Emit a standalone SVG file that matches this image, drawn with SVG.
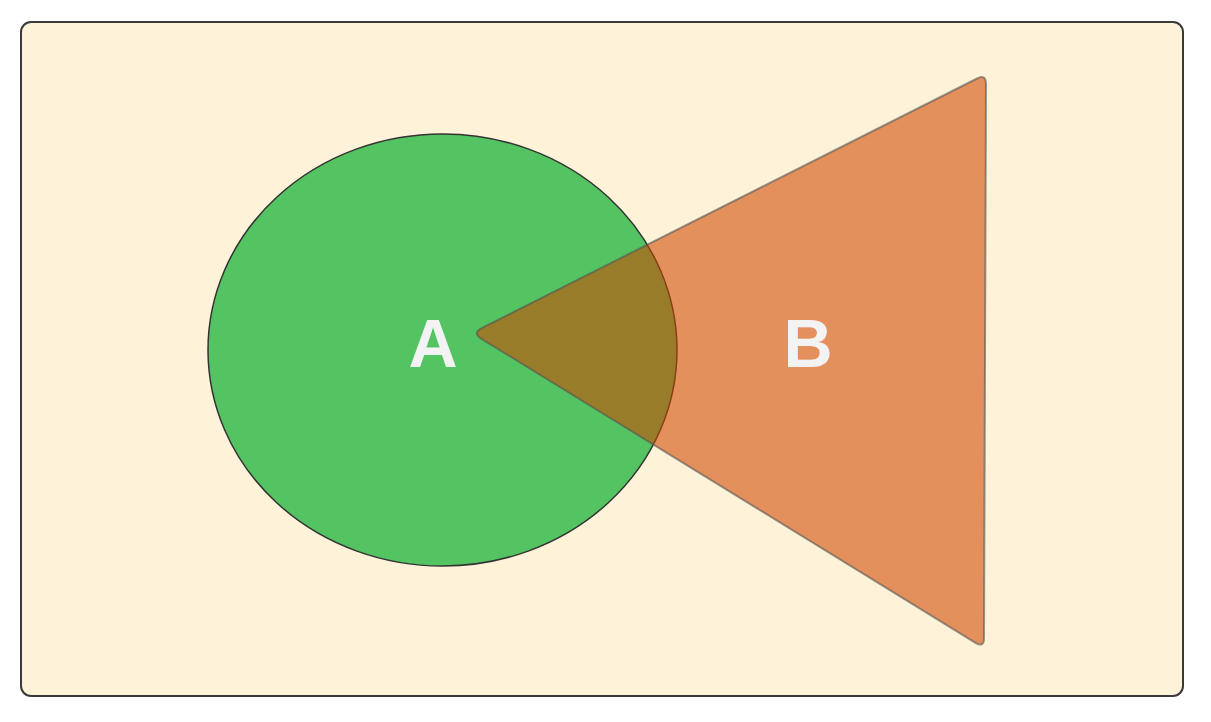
<svg xmlns="http://www.w3.org/2000/svg" width="1211" height="722" viewBox="0 0 1211 722">
<style>
.lbl{font-family:"Liberation Sans",Arial,sans-serif;font-weight:bold;font-size:68px;fill:#f3f3f3;text-anchor:middle}
</style>
<rect x="0" y="0" width="1211" height="722" fill="#ffffff"/>
<rect id="frame" x="21" y="22" width="1162" height="674" rx="10" fill="#fef2d8" stroke="#3a3a3a" stroke-width="2"/>
<g id="setA">
<ellipse cx="442.5" cy="350" rx="234.5" ry="216" fill="#54c462" stroke="#333333" stroke-width="1.5"/>
</g>
<g id="setB">
<path d="M482.7,327.6 L977.1,78.5 Q986,74 986,84 L984,638 Q984,648 975.5,642.8 L482.2,339.3 Q471,333 482.7,327.6 Z" fill="#cd4600" fill-opacity="0.57" stroke="#555555" stroke-opacity="0.6" stroke-width="2"/>
</g>
<g id="labels">
<text class="lbl" x="433" y="367">A</text>
<text class="lbl" x="808" y="367">B</text>
</g>
</svg>
